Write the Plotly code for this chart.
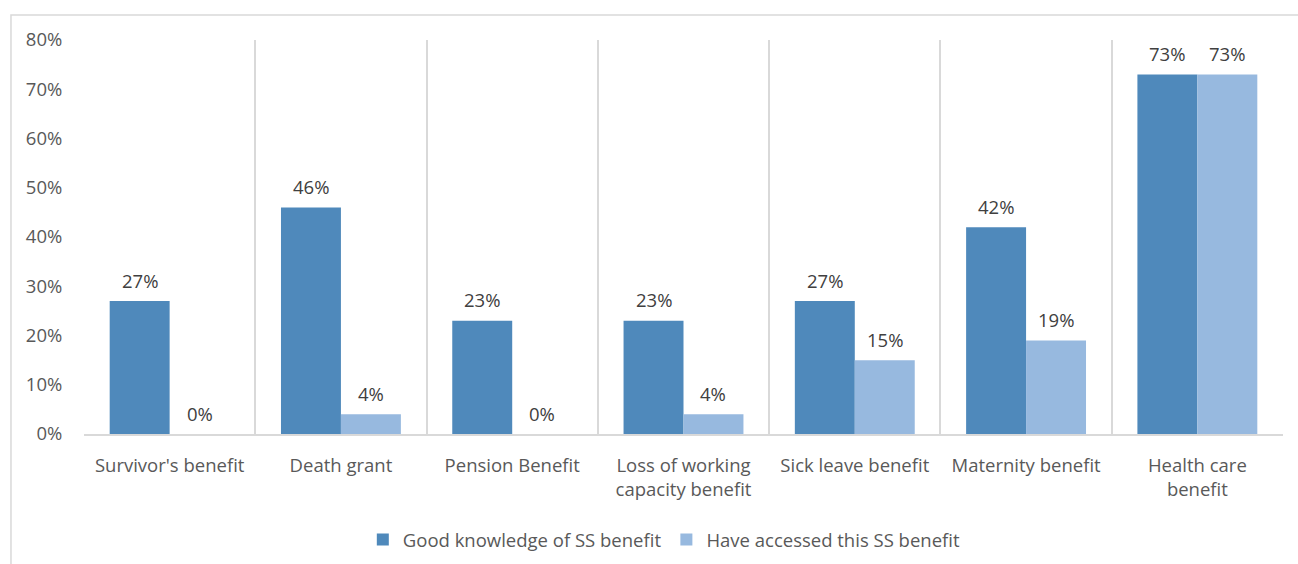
import plotly.graph_objects as go

categories = [
    "Survivor's benefit",
    "Death grant",
    "Pension Benefit",
    "Loss of working<br>capacity benefit",
    "Sick leave benefit",
    "Maternity benefit",
    "Health care<br>benefit",
]
good_knowledge = [27, 46, 23, 23, 27, 42, 73]
have_accessed = [0, 4, 0, 4, 15, 19, 73]
y_ticks = [0, 10, 20, 30, 40, 50, 60, 70, 80]

series_names = ["Good knowledge of SS benefit", "Have accessed this SS benefit"]
colors = ["#4f89bb", "#97b9df"]
font_family = "'Open Sans', Lato, sans-serif"
text_color = "#595959"
label_color = "#404040"
grid_color = "#d9d9d9"
font_size = 18.5

x_pos = list(range(len(categories)))
bar_w = 0.35

fig = go.Figure()
for name, vals, color, off in zip(series_names, [good_knowledge, have_accessed], colors, [-bar_w, 0]):
    fig.add_trace(go.Bar(
        x=x_pos, y=vals, name=name, width=bar_w, offset=off,
        marker=dict(color=color, line=dict(width=0)),
        hoverinfo="skip",
    ))
    for xi, v in zip(x_pos, vals):
        fig.add_annotation(
            x=xi + off + bar_w / 2, y=v, text=f"{v}%", showarrow=False,
            yshift=21, font=dict(family=font_family, size=font_size, color=label_color),
        )

# outer chart frame
fig.add_shape(type="rect", xref="paper", yref="paper",
              x0=-0.0609, x1=1.03, y0=-0.4, y1=1.0635,
              line=dict(color=grid_color, width=1.5), fillcolor="rgba(0,0,0,0)", layer="below")

fig.update_layout(
    width=1298, height=564,
    margin=dict(l=84, r=15, t=40, b=130, autoexpand=False),
    paper_bgcolor="white", plot_bgcolor="white",
    barmode="overlay",
    font=dict(family=font_family, size=font_size, color=text_color),
    legend=dict(orientation="h", x=0.484, xanchor="center", y=-0.269, yanchor="middle",
                font=dict(size=font_size, color=text_color), traceorder="normal",
                itemwidth=30, tracegroupgap=0),
    showlegend=True,
)
fig.update_xaxes(
    range=[-0.5, len(categories) - 0.5],
    tickvals=x_pos, ticktext=categories,
    showgrid=False, zeroline=False,
    showline=True, linecolor=grid_color, linewidth=1.5,
    ticks="outside", ticklen=14, tickcolor="rgba(0,0,0,0)",
    minor=dict(tick0=-0.5, dtick=1, showgrid=True, gridcolor=grid_color, gridwidth=1.5),
    fixedrange=True,
)
fig.update_yaxes(
    range=[0, 80], tickvals=y_ticks, ticktext=[f"{t}%" for t in y_ticks],
    showgrid=False, zeroline=False, showline=False,
    ticks="outside", ticklen=17, tickcolor="rgba(0,0,0,0)",
    fixedrange=True,
)

fig.write_html("out.html")
